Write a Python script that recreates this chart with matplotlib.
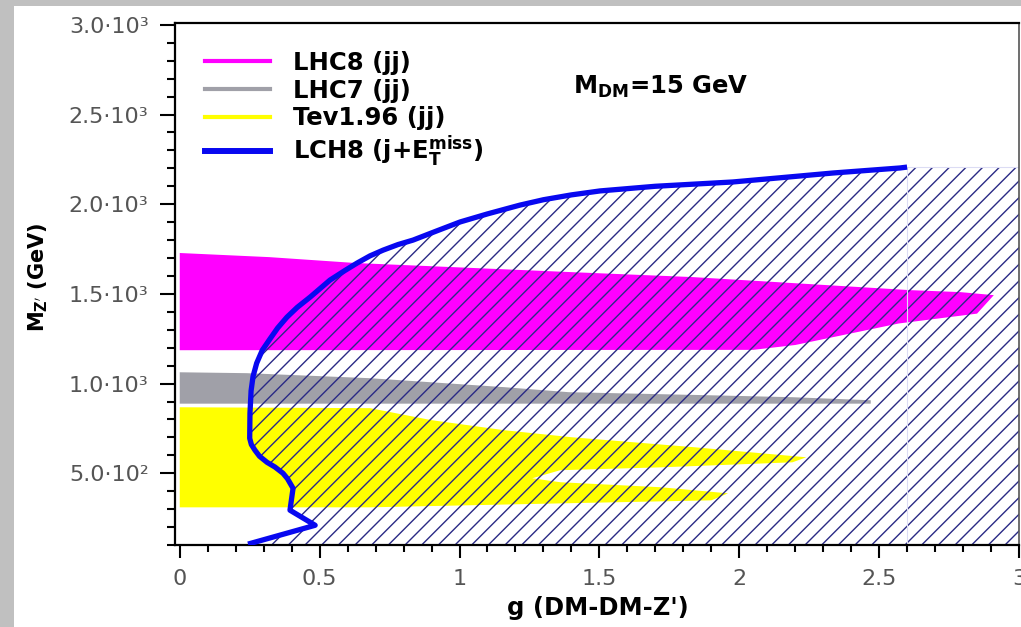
import matplotlib
matplotlib.use("Agg")
import matplotlib.pyplot as plt
from matplotlib.lines import Line2D
from matplotlib.patches import Rectangle
from matplotlib.ticker import MultipleLocator

plt.rcParams['font.family'] = ['DejaVu Sans']
plt.rcParams['mathtext.fontset'] = 'dejavusans'
plt.rcParams['mathtext.default'] = 'bf'
plt.rcParams['hatch.linewidth'] = 1.0

# ---------------- data ----------------
# LHC8 (jj) excluded band (outline, g vs M_Z')
lhc8_g = [0.0, 0.32, 0.63, 1.39, 1.83, 2.43, 2.61, 2.79, 2.91, 2.85, 2.57, 2.20, 2.05, 0.0]
lhc8_m = [1728, 1705, 1672, 1622, 1594, 1538, 1521, 1510, 1493, 1390, 1335, 1215, 1188, 1186]

# LHC7 (jj)
lhc7_g = [0.0, 0.24, 0.68, 1.16, 1.39, 1.89, 2.19, 2.47, 2.47, 0.0]
lhc7_m = [1063, 1058, 1030, 980, 952, 935, 924, 907, 888, 888]

# Tev1.96 (jj)
tev_g = [0.0, 0.68, 0.90, 1.16, 1.40, 1.84, 2.24, 2.19, 1.72, 1.36, 1.26,
         1.36, 1.72, 1.96, 1.90, 1.36, 0.68, 0.0]
tev_m = [868, 863, 796, 740, 701, 645, 589, 561, 533, 517, 472,
         450, 422, 388, 349, 332, 310, 310]

# LHC8 (j + E_T^miss) mono-jet limit curve
mono_g = [0.244, 0.484, 0.394, 0.405, 0.385, 0.369, 0.340, 0.312, 0.285, 0.269, 0.256,
          0.250, 0.251, 0.255, 0.262, 0.275, 0.295, 0.323, 0.350, 0.383, 0.420,
          0.466, 0.537, 0.590, 0.634, 0.680, 0.727, 0.780, 0.834, 0.920, 1.002,
          1.100, 1.216, 1.300, 1.400, 1.502, 1.700, 1.977, 2.150, 2.335, 2.574, 2.600]
mono_m = [105, 210, 294, 416, 470, 500, 535, 561, 595, 628, 660,
          695, 835, 960, 1040, 1114, 1186, 1250, 1310, 1370, 1425,
          1482, 1577, 1630, 1672, 1712, 1744, 1775, 1800, 1852, 1901,
          1946, 1995, 2025, 2052, 2074, 2100, 2124, 2148, 2174, 2202, 2207]

x_ticks = [0, 0.5, 1, 1.5, 2, 2.5, 3]
x_ticklabels = ['0', '0.5', '1', '1.5', '2', '2.5', '3']
y_ticks = [500, 1000, 1500, 2000, 2500, 3000]
y_ticklabels = ['5.0·10²', '1.0·10³', '1.5·10³', '2.0·10³', '2.5·10³', '3.0·10³']

legend_labels = ['LHC8 (jj)', 'LHC7 (jj)', 'Tev1.96 (jj)', r'LCH8 (j+E$_T^{miss}$)']
annotation = r'M$_{DM}$=15 GeV'

# ---------------- figure ----------------
W, H = 1021, 627
fig = plt.figure(figsize=(W / 100, H / 100), dpi=100)
fig.patch.set_facecolor('white')
# grey frame strips of the screenshot
fig.patches.append(Rectangle((0, 0), 14 / W, 1, transform=fig.transFigure,
                             facecolor='#c0c0c0', edgecolor='none', zorder=0))
fig.patches.append(Rectangle((0, 1 - 6 / H), 1, 6 / H, transform=fig.transFigure,
                             facecolor='#c0c0c0', edgecolor='none', zorder=0))

ax = fig.add_axes([175 / W, 1 - 545 / H, 844 / W, 522.3 / H])
xmin, xmax = -0.017, 3.0
ymin, ymax = 100, 3012
ax.set_xlim(xmin, xmax)
ax.set_ylim(ymin, ymax)

ax.fill(lhc8_g, lhc8_m, facecolor='#ff00ff', edgecolor='none', zorder=1)
ax.fill(lhc7_g, lhc7_m, facecolor='#a0a0a8', edgecolor='none', zorder=1)
ax.fill(tev_g, tev_m, facecolor='#ffff00', edgecolor='none', zorder=1)

# hatched excluded region to the right of the mono-jet curve
g_end, m_end = mono_g[-1], mono_m[-1]
hx = [mono_g[0]] + mono_g + [g_end]
hy = [ymin] + mono_m + [ymin]
ax.fill(hx, hy, facecolor='none', edgecolor='#2a2a85', hatch='//', linewidth=0, zorder=2)
ax.fill([g_end, xmax, xmax, g_end], [ymin, ymin, m_end, m_end],
        facecolor='none', edgecolor='#2a2a85', hatch='//', linewidth=0, zorder=2)
ax.plot([g_end, g_end, xmax], [ymin, m_end, m_end], color='#dcdcf4', lw=0.8, zorder=2)

ax.plot(mono_g, mono_m, color='#0808f0', lw=3.8, zorder=3,
        solid_joinstyle='round', solid_capstyle='butt')

# ticks
ax.set_xticks(x_ticks)
ax.set_xticklabels(x_ticklabels)
ax.set_yticks(y_ticks)
ax.set_yticklabels(y_ticklabels)
ax.xaxis.set_minor_locator(MultipleLocator(0.1))
ax.yaxis.set_minor_locator(MultipleLocator(100))
ax.tick_params(axis='both', which='both', direction='out', width=1.5, color='black',
               labelcolor='#555555', labelsize=16)
ax.tick_params(axis='x', which='major', length=9.5, pad=8)
ax.tick_params(axis='x', which='minor', length=5)
ax.tick_params(axis='y', which='major', length=11, pad=8)
ax.tick_params(axis='y', which='minor', length=6)
ax.xaxis.set_ticks_position('bottom')
ax.yaxis.set_ticks_position('left')
for s in ['left', 'bottom', 'top']:
    ax.spines[s].set_linewidth(1.6)
    ax.spines[s].set_color('black')
ax.spines['right'].set_linewidth(1.2)
ax.spines['right'].set_color('#555555')

ax.set_xlabel("g (DM-DM-Z')", fontsize=17.5, fontweight='bold')
ax.xaxis.set_label_coords((598 - 175) / 844, (545 - 608) / 522.3)
ax.xaxis.label.set_verticalalignment('center')
ax.set_ylabel(r"M$_{Z'}$ (GeV)", fontsize=15, fontweight='bold')
ax.yaxis.set_label_coords((38 - 175) / 844, (545 - 277) / 522.3)
ax.yaxis.label.set_verticalalignment('center')

ax.text((661 - 175) / 844, (545 - 87) / 522.3, annotation, transform=ax.transAxes,
        ha='center', va='center', fontsize=17.5, fontweight='bold')

handles = [Line2D([], [], color='#ff00ff', lw=3),
           Line2D([], [], color='#a0a0a8', lw=3),
           Line2D([], [], color='#ffff00', lw=3),
           Line2D([], [], color='#0808f0', lw=4.3)]
leg = ax.legend(handles, legend_labels, loc='upper left',
                bbox_to_anchor=((205 - 175) / 844, (545 - 51) / 522.3),
                frameon=False, borderpad=0, borderaxespad=0,
                handlelength=2.68, handletextpad=0.95, labelspacing=0.15,
                prop={'size': 17.5, 'weight': 'bold'})

fig.savefig('out.png', dpi=100)
